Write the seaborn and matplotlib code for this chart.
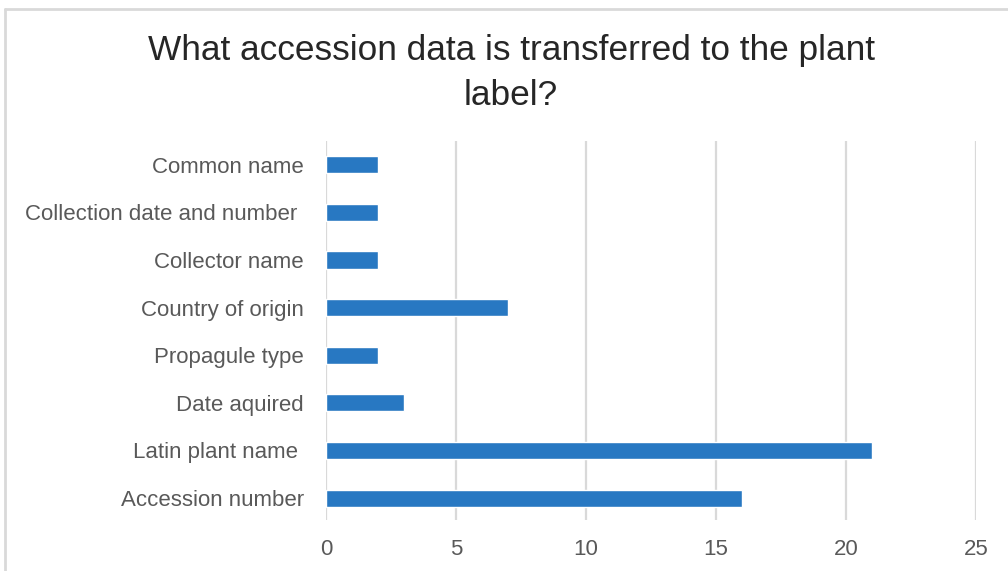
import numpy as np
import pandas as pd
import seaborn as sns
import matplotlib.pyplot as plt
from matplotlib.lines import Line2D

# data (top to bottom)
categories = ["Common name", "Collection date and number ", "Collector name",
              "Country of origin", "Propagule type", "Date aquired",
              "Latin plant name ", "Accession number"]
counts = [2, 2, 2, 7, 2, 3, 21, 16]
x_ticks = [0, 5, 10, 15, 20, 25]

df = pd.DataFrame({"field": categories, "count": counts})

sns.set_style("white")
plt.rcParams['font.family'] = ['Liberation Sans', 'DejaVu Sans']

fig = plt.figure(figsize=(10.08, 5.71), dpi=100)
ax = fig.add_axes([0.3234, 0.0893, 0.6448, 0.6637])

sns.barplot(data=df, x="count", y="field", orient="h", color="#2878C2",
            width=0.36, saturation=1, ax=ax, zorder=3)

ax.set_xlim(0, 25)
ax.set_xticks(x_ticks)
ax.set_ylim(7.46, -0.5)
ax.grid(axis='x', color='#D9D9D9', linewidth=1.6, zorder=0)
for s in ax.spines.values():
    s.set_visible(False)
ax.set_xlabel("")
ax.set_ylabel("")
ax.tick_params(axis='x', length=0, pad=14, labelsize=16, labelcolor='#595959')
ax.tick_params(axis='y', length=0, pad=16, labelsize=16, labelcolor='#595959')

fig.text(0.507, 0.872, "What accession data is transferred to the plant\nlabel?",
         ha='center', va='center', fontsize=25.4, color='#262626', linespacing=1.48)

# chart area border (left and top edges visible)
fig.add_artist(Line2D([5/1008, 1], [1 - 9/571, 1 - 9/571], color='#D9D9D9', lw=2))
fig.add_artist(Line2D([5/1008, 5/1008], [0, 1 - 9/571], color='#D9D9D9', lw=2))

plt.savefig('out.png', dpi=100)
